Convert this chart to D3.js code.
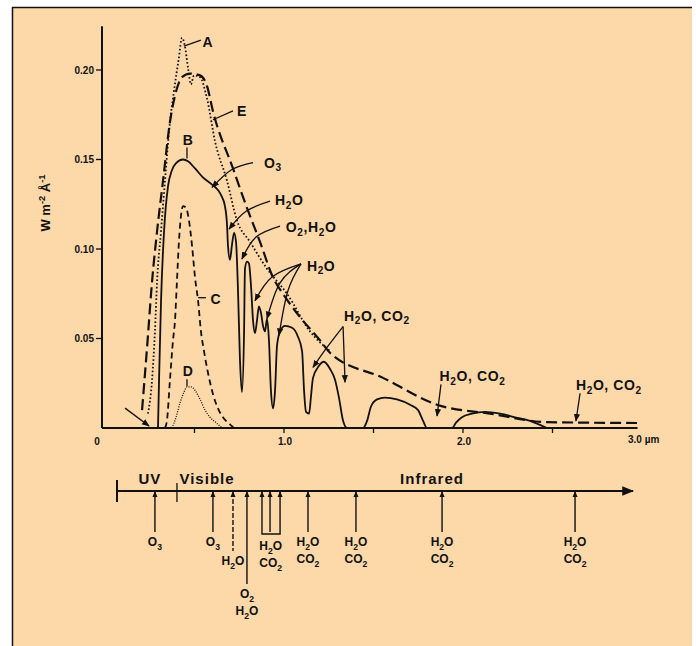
<!DOCTYPE html>
<html>
<head>
<meta charset="utf-8">
<script src="https://cdn.jsdelivr.net/npm/d3@7"></script>
<style>
  body { margin: 0; background: #fff; }
  svg text { font-family: "Liberation Sans", Arial, sans-serif; font-weight: bold; fill: #111; }
</style>
</head>
<body>
<svg id="chart" width="696" height="646"></svg>
<script>
// ---- data (wavelength in µm, irradiance in W m-2 Å-1) ----
const xTicks = [0, 0.5, 1, 1.5, 2, 2.5];
const xTickLabels = ["0", "", "1.0", "", "2.0", ""];
const yTicks = [0.05, 0.10, 0.15, 0.20];
const yTickLabels = ["0.05", "0.10", "0.15", "0.20"];

// A: outside the atmosphere (dotted)
const curveA = [[0.240,0.008],[0.263,0.027],[0.279,0.054],[0.291,0.082],[0.313,0.110],[0.335,0.138],
  [0.363,0.171],[0.385,0.188],[0.413,0.207],[0.430,0.218],[0.447,0.213],[0.464,0.201],[0.480,0.192],
  [0.497,0.197],[0.531,0.196],[0.570,0.184],[0.615,0.160],[0.682,0.138],[0.737,0.116],[0.810,0.104],
  [0.905,0.089],[1.017,0.075],[1.145,0.054],[1.257,0.043]];

// B: sea level (solid)
const curveB = [[0.296,0],[0.302,0.027],[0.313,0.071],[0.330,0.110],[0.352,0.135],[0.374,0.144],
  [0.397,0.148],[0.436,0.150],[0.464,0.149],[0.503,0.145],[0.547,0.140],[0.598,0.136],[0.631,0.133],
  [0.654,0.129],[0.670,0.124],[0.682,0.113],[0.687,0.102],[0.698,0.094],[0.709,0.102],[0.721,0.109],
  [0.732,0.104],[0.743,0.077],[0.754,0.038],[0.765,0.020],[0.777,0.054],[0.782,0.089],[0.793,0.093],
  [0.804,0.092],[0.816,0.079],[0.827,0.060],[0.838,0.053],[0.849,0.060],[0.860,0.068],[0.872,0.064],
  [0.883,0.057],[0.894,0.054],[0.905,0.061],[0.916,0.049],[0.927,0.021],[0.939,0.011],[0.950,0.021],
  [0.961,0.046],[0.978,0.054],[1.006,0.057],[1.045,0.056],[1.078,0.051],[1.101,0.043],[1.112,0.021],
  [1.123,0.009],[1.140,0.008],[1.151,0.018],[1.162,0.028],[1.190,0.034],[1.223,0.037],[1.257,0.033],
  [1.285,0.027],[1.307,0.017],[1.330,0.004],[1.352,0],[1.441,0],[1.464,0.004],[1.486,0.012],
  [1.520,0.016],[1.564,0.017],[1.631,0.016],[1.704,0.013],[1.749,0.010],[1.777,0.004],[1.799,0],
  [1.939,0],[1.961,0.003],[1.994,0.006],[2.050,0.008],[2.123,0.009],[2.207,0.008],[2.291,0.006],
  [2.374,0.004],[2.469,0]];

// C (dashed)
const curveC = [[0.335,0],[0.346,0.004],[0.363,0.027],[0.380,0.049],[0.391,0.060],[0.402,0.082],
  [0.413,0.104],[0.425,0.119],[0.436,0.124],[0.453,0.123],[0.469,0.116],[0.486,0.102],[0.503,0.084],
  [0.520,0.071],[0.536,0.054],[0.553,0.043],[0.575,0.031],[0.603,0.019],[0.631,0.011],[0.659,0.006],
  [0.698,0.002],[0.721,0]];

// D (fine dotted)
const curveD = [[0.374,0],[0.397,0.006],[0.419,0.014],[0.441,0.020],[0.458,0.023],[0.480,0.023],
  [0.503,0.021],[0.531,0.016],[0.559,0.010],[0.587,0.006],[0.620,0.003],[0.654,0]];

// E: black body (long dashes)
const curveE = [[0.207,0.010],[0.235,0.045],[0.263,0.082],[0.291,0.110],[0.324,0.138],[0.363,0.171],
  [0.397,0.188],[0.430,0.196],[0.475,0.198],[0.531,0.197],[0.570,0.191],[0.603,0.177],[0.715,0.145],
  [0.793,0.123],[0.866,0.104],[0.939,0.084],[0.994,0.075],[1.089,0.062],[1.201,0.049],[1.257,0.042],
  [1.553,0.028],[1.855,0.013],[2.151,0.008],[2.469,0.0033],[2.972,0.0028]];

// absorption bands on the lower scale
const bandWavelengths = [[0.279],[0.603],[0.715],[0.793],[0.877,0.922,0.978],[1.134],[1.402],[1.883],[2.626]];
const bandLabels = [["O_3"],["O_3"],["H_2O"],["O_2","H_2O"],["H_2O","CO_2"],["H_2O","CO_2"],["H_2O","CO_2"],["H_2O","CO_2"],["H_2O","CO_2"]];
const regionNames = ["UV", "Visible", "Infrared"];
const regionCenters = [0.251, 0.570, 1.827];

// ---- layout ----
const svg = d3.select("#chart");
const x = d3.scaleLinear().domain([0, 3]).range([105, 642]);
const y = d3.scaleLinear().domain([0, 0.2]).range([428, 70]);
const ink = "#111";

svg.append("rect").attr("x", 12).attr("y", 7).attr("width", 680).attr("height", 639).attr("fill", "#fdd8a9");
svg.append("line").attr("x1", 12).attr("x2", 692).attr("y1", 7.5).attr("y2", 7.5).attr("stroke", ink).attr("stroke-width", 1.5);
svg.append("line").attr("x1", 12.5).attr("x2", 12.5).attr("y1", 7).attr("y2", 646).attr("stroke", ink).attr("stroke-width", 1.5);

const defs = svg.append("defs");
defs.append("marker")
  .attr("id", "arrow")
  .attr("viewBox", "0 -5 10 10")
  .attr("refX", 9).attr("refY", 0)
  .attr("markerWidth", 6).attr("markerHeight", 6)
  .attr("orient", "auto")
  .append("path").attr("d", "M0,-4L10,0L0,4").attr("fill", ink);

// chemical style text: "_2" = subscript, "^-2" = superscript
function chem(t, str) {
  const parts = str.split(/(_\d|\^[^\s]+)/).filter(s => s);
  let shift = 0;
  parts.forEach(p => {
    let dy = 0, txt = p, small = false;
    if (p[0] === "_") { txt = p.slice(1); dy = 3.5; small = true; }
    else if (p[0] === "^") { txt = p.slice(1); dy = -5; small = true; }
    const s = t.append("tspan").text(txt).attr("dy", dy - shift);
    if (small) s.attr("font-size", "0.72em");
    shift = dy;
  });
  return t;
}

// axes
const axisX = x(0) - 3;
svg.append("line").attr("x1", axisX).attr("x2", axisX).attr("y1", y(0.2245)).attr("y2", y(0))
  .attr("stroke", ink).attr("stroke-width", 2);
svg.append("line").attr("x1", axisX).attr("x2", x(2.975)).attr("y1", y(0)).attr("y2", y(0))
  .attr("stroke", ink).attr("stroke-width", 2);

yTicks.forEach((v, i) => {
  svg.append("line").attr("x1", axisX - 6).attr("x2", axisX).attr("y1", y(v)).attr("y2", y(v))
    .attr("stroke", ink).attr("stroke-width", 1.3);
  svg.append("text").attr("x", axisX - 8).attr("y", y(v) + 3.5).attr("text-anchor", "end")
    .style("font-size", "10px").text(yTickLabels[i]);
});

xTicks.forEach((v, i) => {
  if (v > 0) svg.append("line").attr("x1", x(v)).attr("x2", x(v)).attr("y1", y(0)).attr("y2", y(0) + 5)
    .attr("stroke", ink).attr("stroke-width", 1.3);
  if (xTickLabels[i]) svg.append("text").attr("x", v === 0 ? x(v) - 8 : x(v) + 1).attr("y", 445)
    .attr("text-anchor", "middle").style("font-size", "10px").text(xTickLabels[i]);
});
svg.append("text").attr("x", x(3) - 14).attr("y", 443).style("font-size", "10px").text("3.0 µm");

chem(svg.append("text")
  .attr("transform", "translate(50,203) rotate(-90)")
  .attr("text-anchor", "middle")
  .style("font-size", "13px"), "W m^-2 Å^-1");

// curves
const line = d3.line().x(d => x(d[0])).y(d => y(d[1])).curve(d3.curveMonotoneX);
const styles = [
  { data: curveE, dash: "11,5", w: 2.2 },
  { data: curveA, dash: "1.6,2.2", w: 1.8 },
  { data: curveC, dash: "6,4", w: 1.8 },
  { data: curveD, dash: "1,1.4", w: 1.3 },
  { data: curveB, dash: null, w: 1.8 }
];
styles.forEach(s => {
  svg.append("path").datum(s.data).attr("d", line)
    .attr("fill", "none").attr("stroke", ink).attr("stroke-width", s.w)
    .attr("stroke-dasharray", s.dash);
});

// annotations (data coordinates)
const leader = d3.line().x(d => x(d[0])).y(d => y(d[1])).curve(d3.curveNatural);
function lead(pts, arrow) {
  svg.append("path").attr("d", leader(pts)).attr("fill", "none")
    .attr("stroke", ink).attr("stroke-width", 1.3)
    .attr("marker-end", arrow ? "url(#arrow)" : null);
}
function label(txt, lx, ly, anchor) {
  chem(svg.append("text").attr("x", x(lx)).attr("y", y(ly) + 5)
    .attr("text-anchor", anchor || "middle")
    .style("font-size", "14px").style("letter-spacing", "0.6px"), txt);
}

lead([[0.441,0.2133],[0.536,0.2167]]);           label("A", 0.575, 0.2156);
lead([[0.603,0.1722],[0.715,0.1772]]);           label("E", 0.765, 0.1772);
lead([[0.458,0.1506],[0.458,0.1567]]);           label("B", 0.464, 0.1611);
lead([[0.520,0.0728],[0.564,0.0728]]);           label("C", 0.620, 0.0722);
lead([[0.458,0.0233],[0.458,0.0272]]);           label("D", 0.464, 0.0317);

lead([[0.827,0.1483],[0.709,0.1444],[0.598,0.1344]], true);   label("O_3", 0.888, 0.1483, "start");
lead([[0.922,0.1267],[0.788,0.1211],[0.693,0.1111]], true);   label("H_2O", 0.950, 0.1272, "start");
lead([[0.978,0.1128],[0.844,0.1067],[0.765,0.0944]], true);   label("O_2,H_2O", 1.010, 0.1122, "start");
lead([[1.095,0.0917],[0.933,0.0844],[0.838,0.0711]], true);
lead([[1.095,0.0917],[0.978,0.0811],[0.905,0.0611]], true);
lead([[1.095,0.0917],[1.022,0.0767],[0.972,0.0517]], true);
label("H_2O", 1.128, 0.0906, "start");
lead([[1.330,0.0567],[1.240,0.0450],[1.162,0.0339]], true);
lead([[1.330,0.0567],[1.341,0.0256]], true);
label("H_2O, CO_2", 1.335, 0.0628, "start");
lead([[1.877,0.0244],[1.855,0.0067]], true);    label("H_2O, CO_2", 1.869, 0.0289, "start");
lead([[2.654,0.0194],[2.631,0.0039]], true);    label("H_2O, CO_2", 2.631, 0.0239, "start");
lead([[0.112,0.0111],[0.246,0.0011]], true);

// lower wavelength bar
const barY = 491;
svg.append("line").attr("x1", x(0.067)).attr("x2", x(2.95)).attr("y1", barY).attr("y2", barY)
  .attr("stroke", ink).attr("stroke-width", 2).attr("marker-end", "url(#arrow)");
svg.append("line").attr("x1", x(0.067)).attr("x2", x(0.067)).attr("y1", barY - 11).attr("y2", barY + 11)
  .attr("stroke", ink).attr("stroke-width", 2);
svg.append("line").attr("x1", x(0.402)).attr("x2", x(0.402)).attr("y1", barY - 8).attr("y2", barY + 11)
  .attr("stroke", ink).attr("stroke-width", 1.3);

regionNames.forEach((n, i) => {
  svg.append("text").attr("x", x(regionCenters[i])).attr("y", barY - 7).attr("text-anchor", "middle")
    .style("font-size", "15px").style("letter-spacing", "1px").text(n);
});

const bandDrop = [41, 41, 60, 93, 41, 41, 41, 41, 41];
bandWavelengths.forEach((wls, i) => {
  const end = barY + bandDrop[i];
  wls.forEach(w => {
    svg.append("line").attr("x1", x(w)).attr("x2", x(w)).attr("y1", barY + 1).attr("y2", end)
      .attr("stroke", ink).attr("stroke-width", 1.4)
      .attr("stroke-dasharray", i === 2 ? "5,2" : null);
    svg.append("path")
      .attr("d", `M${x(w) - 2.5},${barY + 6}L${x(w)},${barY}L${x(w) + 2.5},${barY + 6}Z`)
      .attr("fill", ink);
  });
  if (wls.length > 1) {
    svg.append("path")
      .attr("d", `M${x(wls[0])},${end}L${x(wls[0])},${end + 2}L${x(wls[wls.length - 1])},${end + 2}L${x(wls[wls.length - 1])},${end}`)
      .attr("fill", "none").attr("stroke", ink).attr("stroke-width", 1.4);
  }
  const cx = d3.mean(wls, w => x(w));
  bandLabels[i].forEach((l, j) => {
    chem(svg.append("text").attr("x", cx).attr("y", end + 14 + j * 17 + (wls.length > 1 ? 4 : 0))
      .attr("text-anchor", "middle").style("font-size", "12px"), l);
  });
});
</script>
</body>
</html>
